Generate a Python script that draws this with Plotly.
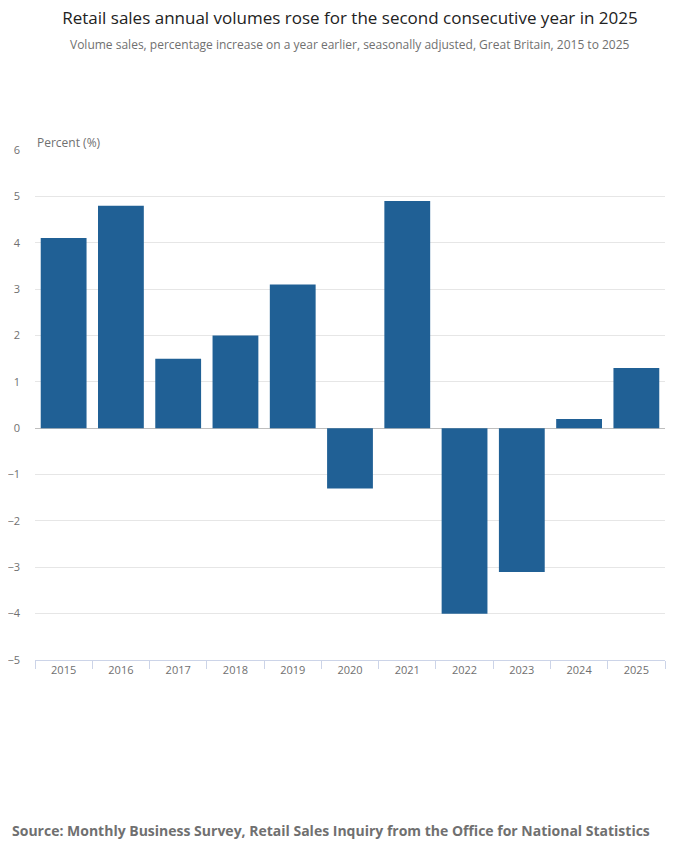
import plotly.graph_objects as go

years = ["2015", "2016", "2017", "2018", "2019", "2020", "2021", "2022", "2023", "2024", "2025"]
volume_growth = [4.1, 4.8, 1.5, 2.0, 3.1, -1.3, 4.9, -4.0, -3.1, 0.2, 1.3]
y_ticks = [-5, -4, -3, -2, -1, 0, 1, 2, 3, 4, 5, 6]

# plot area 630 x 510 px, page offset of ~8px taken into account
fig = go.Figure(go.Bar(x=years, y=volume_growth, marker_color="#206095",
                       marker_line_width=0, width=0.8))

fig.update_layout(
    width=700, height=857,
    margin=dict(l=27, r=43, t=142, b=205, autoexpand=False),
    plot_bgcolor="white", paper_bgcolor="white",
    font=dict(family="Open Sans", color="#707070", size=11),
    showlegend=False,
    title=dict(text="Retail sales annual volumes rose for the second consecutive year in 2025",
               x=342 / 700, xanchor="center", y=1 - 10 / 857, yanchor="middle",
               font=dict(size=17, color="#222222")),
)
fig.add_annotation(text="Volume sales, percentage increase on a year earlier, seasonally adjusted, Great Britain, 2015 to 2025",
                   xref="paper", yref="paper", x=(342 - 27) / 630, y=1.0 + (150 - 44) / 510,
                   showarrow=False, font=dict(size=12, color="#707070"), yanchor="middle")
fig.add_annotation(text="Percent (%)", xref="paper", yref="paper", x=0, y=1.0 + 8 / 510,
                   xanchor="left", yanchor="middle", showarrow=False,
                   font=dict(size=12, color="#707070"))
fig.add_annotation(text="<b>Source: Monthly Business Survey, Retail Sales Inquiry from the Office for National Statistics</b>",
                   xref="paper", yref="paper", x=-25 / 630, y=-(830 - 660) / 510,
                   xanchor="left", yanchor="middle", showarrow=False,
                   font=dict(size=14, color="#707070"))

fig.update_yaxes(range=[-5, 6], tickvals=y_ticks, showgrid=True, gridcolor="#e6e6e6",
                 zeroline=True, zerolinecolor="#bebebe", zerolinewidth=1, automargin=False,
                 ticks="", ticklabelstandoff=14, tickfont=dict(size=11, color="#707070"))
fig.update_xaxes(type="category", showline=True, linecolor="#ccd4e8", ticks="outside",
                 tickson="boundaries", tickcolor="#ccd4e8", ticklen=8, automargin=False,
                 tickfont=dict(size=11, color="#707070"))

fig.write_html("out.html")
